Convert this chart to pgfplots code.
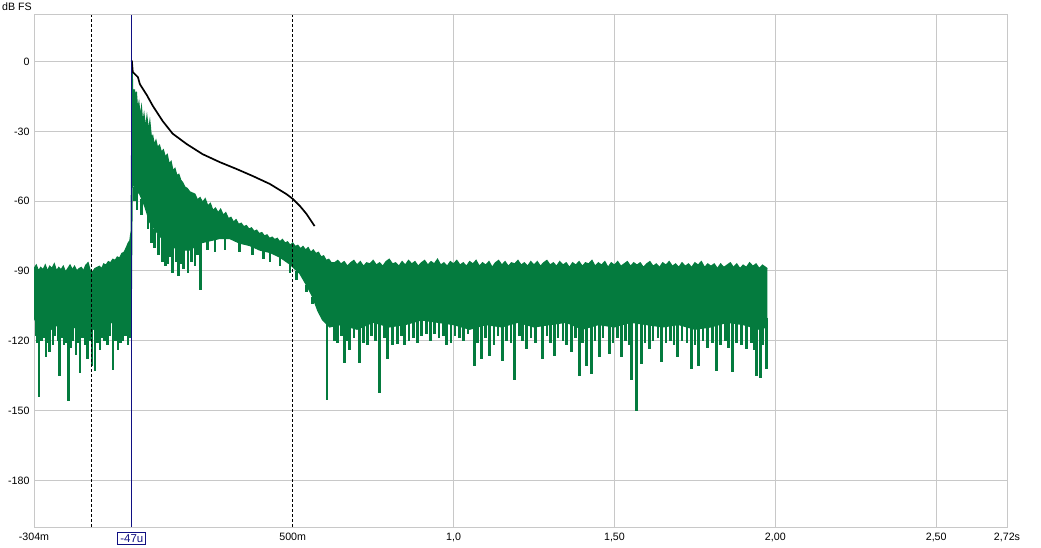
\documentclass[border=0pt]{standalone}
\usepackage{fontspec}
\setmainfont{Liberation Sans}
\usepackage{pgfplots}
\usepackage{pgfplotstable}
\pgfplotsset{compat=1.18}
\usepgfplotslibrary{fillbetween}

\definecolor{irgreen}{RGB}{4,123,62}
\definecolor{cursorblue}{RGB}{16,16,130}
\definecolor{gridgray}{RGB}{200,200,200}

% upper edge of the green impulse response (s, dB FS)
\pgfplotstableread{
t dB
-0.304 -89
-0.297 -87.5
-0.290 -90
-0.283 -88.5
-0.276 -89.5
-0.269 -87.5
-0.262 -90
-0.255 -88
-0.248 -89
-0.241 -87
-0.234 -90
-0.227 -88.5
-0.220 -89.5
-0.213 -88
-0.206 -90.5
-0.199 -89
-0.192 -87.5
-0.185 -89.5
-0.178 -88
-0.171 -90
-0.164 -89
-0.157 -88.5
-0.150 -90
-0.143 -87.5
-0.136 -86.5
-0.129 -90
-0.122 -90.5
-0.115 -89
-0.108 -88.5
-0.101 -88
-0.094 -89
-0.087 -87
-0.080 -87.5
-0.073 -86
-0.066 -86.5
-0.059 -85
-0.052 -85.5
-0.045 -84
-0.038 -84.5
-0.031 -82.5
-0.024 -82
-0.017 -80
-0.011 -78
-0.006 -77
-0.002 -73
-0.0005 -40
0.000 0
0.001 -1
0.002 -11
0.005 -16
0.008 -12
0.011 -18
0.014 -13
0.018 -21
0.022 -18
0.026 -24
0.030 -20
0.034 -27
0.038 -23
0.043 -29
0.047 -24
0.052 -30
0.056 -26
0.061 -33
0.065 -32
0.070 -36
0.075 -34
0.080 -37
0.086 -36
0.092 -39
0.098 -38
0.104 -41
0.110 -40
0.116 -44
0.122 -43
0.128 -47
0.134 -46
0.140 -49
0.146 -48.5
0.152 -51
0.158 -52
0.165 -54
0.172 -54.5
0.180 -56
0.188 -56.5
0.196 -57
0.204 -59.5
0.212 -58.5
0.220 -60.5
0.228 -59
0.236 -62
0.244 -61
0.252 -64
0.260 -63
0.268 -65
0.276 -63.5
0.284 -66
0.292 -65
0.300 -67.5
0.308 -67
0.316 -69
0.324 -68
0.332 -70
0.340 -69.5
0.348 -71
0.356 -70.5
0.364 -72
0.372 -71.5
0.380 -73
0.388 -72.5
0.396 -74
0.404 -73.5
0.412 -75
0.420 -74.5
0.428 -76
0.436 -75.5
0.444 -76.5
0.452 -76
0.460 -77.5
0.468 -76.5
0.476 -78
0.484 -77.5
0.492 -79
0.500 -78
0.508 -79.5
0.516 -79
0.524 -80.5
0.532 -79.5
0.540 -81
0.548 -80
0.556 -82
0.564 -81
0.572 -82.5
0.580 -82
0.588 -84
0.596 -83.5
0.604 -85.5
0.612 -85
0.620 -86.5
0.63 -86.5
0.64 -85.5
0.65 -87
0.66 -86
0.67 -88
0.68 -86.5
0.69 -85.5
0.70 -87.5
0.71 -86
0.72 -88
0.73 -86.5
0.74 -87
0.75 -85.5
0.76 -87.5
0.77 -86.5
0.78 -88
0.79 -86
0.80 -85
0.81 -87
0.82 -86.5
0.83 -88
0.84 -86
0.85 -87.5
0.86 -85.5
0.87 -87
0.88 -86
0.89 -88
0.90 -86.5
0.91 -85.5
0.92 -87.5
0.93 -86
0.94 -87
0.95 -85
0.96 -87.5
0.97 -86.5
0.98 -88
0.99 -86
1.00 -87
1.01 -85.5
1.02 -87.5
1.03 -86.5
1.04 -88
1.05 -86
1.06 -87
1.07 -85.5
1.08 -88
1.09 -86.5
1.10 -87.5
1.11 -86
1.12 -88.5
1.13 -86.5
1.14 -85.5
1.15 -87.5
1.16 -86
1.17 -88
1.18 -86.5
1.19 -87
1.20 -85.5
1.21 -87.5
1.22 -86.5
1.23 -88
1.24 -86
1.25 -87.5
1.26 -86
1.27 -88
1.28 -86.5
1.29 -85.5
1.30 -87.5
1.31 -86.5
1.32 -88
1.33 -86
1.34 -87.5
1.35 -86.5
1.36 -88.5
1.37 -86.5
1.38 -87.5
1.39 -86
1.40 -88
1.41 -86.5
1.42 -87
1.43 -85.5
1.44 -88
1.45 -86.5
1.46 -87.5
1.47 -86
1.48 -88.5
1.49 -86.5
1.50 -87.5
1.51 -86
1.52 -88
1.53 -87
1.54 -86
1.55 -88
1.56 -86.5
1.57 -87.5
1.58 -86.5
1.59 -88.5
1.60 -87
1.61 -86
1.62 -88
1.63 -87
1.64 -88.5
1.65 -86.5
1.66 -87.5
1.67 -86
1.68 -88
1.69 -87
1.70 -88.5
1.71 -86.5
1.72 -88
1.73 -87
1.74 -88.5
1.75 -86.5
1.76 -87.5
1.77 -86
1.78 -88.5
1.79 -87
1.80 -88
1.81 -87
1.82 -89
1.83 -87
1.84 -88.5
1.85 -87.5
1.86 -86.5
1.87 -88.5
1.88 -87
1.89 -89
1.90 -87.5
1.91 -88.5
1.92 -86.5
1.93 -88
1.94 -87
1.95 -89
1.96 -87.5
1.97 -88.5
1.975 -89
}\upedge

% lower edge of the solid green body
\pgfplotstableread{
t dB
-0.304 -110
-0.29 -114
-0.27 -112
-0.25 -115
-0.23 -113
-0.21 -116
-0.19 -113
-0.17 -115
-0.15 -112
-0.13 -116
-0.11 -114
-0.09 -112
-0.07 -113
-0.05 -110
-0.03 -111
-0.012 -109
-0.002 -108
0.001 -52
0.012 -55
0.025 -57
0.040 -62
0.056 -69
0.071 -72
0.087 -75
0.102 -77
0.118 -79
0.149 -81
0.180 -81
0.211 -78
0.242 -77
0.273 -76
0.304 -76
0.335 -78
0.366 -79
0.398 -81
0.429 -82
0.460 -84
0.491 -87
0.522 -91
0.543 -96
0.562 -101
0.578 -107
0.593 -111
0.615 -114
0.65 -113
0.70 -115
0.75 -112
0.80 -114
0.85 -113
0.90 -111
0.95 -112
1.00 -113
1.05 -115
1.10 -113
1.15 -114
1.20 -112
1.25 -114
1.30 -113
1.35 -112
1.40 -115
1.45 -113
1.50 -114
1.55 -112
1.60 -113
1.65 -114
1.70 -113
1.75 -115
1.80 -114
1.85 -112
1.90 -113
1.95 -115
1.975 -114
}\lowedge

% downward spikes: time, start level, lowest value
\pgfplotstableread{
t top dip
-0.298 -110 -118
-0.293 -110 -121
-0.289 -110 -144
-0.280 -110 -120
-0.273 -110 -119
-0.267 -110 -127
-0.260 -110 -121
-0.255 -110 -125
-0.245 -110 -122
-0.239 -110 -118
-0.230 -110 -120
-0.224 -110 -135
-0.217 -110 -119
-0.211 -110 -122
-0.203 -110 -121
-0.196 -110 -146
-0.190 -110 -123
-0.183 -110 -120
-0.174 -110 -126
-0.167 -110 -121
-0.161 -110 -134
-0.153 -110 -119
-0.146 -110 -122
-0.137 -110 -128
-0.130 -110 -120
-0.124 -110 -131
-0.115 -110 -133
-0.107 -110 -121
-0.099 -110 -124
-0.092 -110 -119
-0.084 -110 -120
-0.076 -110 -122
-0.068 -110 -118
-0.059 -110 -132.5
-0.050 -108 -120
-0.043 -108 -124
-0.036 -108 -121
-0.028 -108 -120
-0.020 -106 -118
-0.012 -106 -122
-0.005 -106 -119
0.009 -54 -60
0.016 -55 -64
0.031 -59 -66
0.050 -66 -72
0.062 -70 -78
0.071 -72 -80
0.082 -74 -83
0.096 -76 -86
0.105 -77 -88
0.112 -78 -87
0.120 -79 -84
0.127 -79 -91
0.137 -80 -86
0.146 -80 -92
0.155 -81 -87
0.161 -81 -89
0.174 -81 -91
0.185 -80 -86
0.196 -79 -88
0.205 -78 -83
0.214 -78 -98
0.236 -77 -81
0.258 -76 -82
0.289 -76 -81
0.335 -78 -82
0.376 -79 -83
0.410 -81 -85
0.429 -82 -86
0.460 -84 -88
0.491 -87 -91
0.512 -90 -94
0.543 -96 -99
0.562 -101 -104
0.606 -110 -145.5
0.630 -110 -120
0.640 -110 -121
0.652 -110 -118
0.661 -110 -129.6
0.668 -110 -120
0.677 -110 -124
0.690 -110 -119
0.708 -110 -129.6
0.720 -110 -121
0.733 -110 -122
0.745 -110 -118
0.758 -110 -120
0.770 -110 -142.5
0.785 -110 -119
0.795 -110 -128
0.810 -110 -122
0.826 -110 -121.5
0.838 -110 -118
0.848 -110 -122
0.862 -110 -120
0.875 -110 -119
0.888 -110 -121
0.901 -110 -118
0.915 -110 -117
0.928 -110 -120
0.941 -110 -117
0.955 -110 -119
0.968 -110 -118
0.978 -110 -122
0.992 -110 -121
1.005 -110 -118
1.019 -110 -119
1.030 -110 -120
1.045 -110 -117
1.065 -110 -131
1.075 -110 -121
1.087 -110 -128
1.100 -110 -119
1.112 -110 -126.6
1.125 -110 -122
1.138 -110 -118
1.152 -110 -128.7
1.165 -110 -120
1.178 -110 -121
1.189 -110 -137
1.205 -110 -118
1.215 -110 -120
1.227 -110 -123.6
1.240 -110 -119
1.255 -110 -121
1.276 -110 -128
1.290 -110 -118
1.302 -110 -121
1.314 -110 -126.6
1.325 -110 -119
1.340 -110 -120
1.351 -110 -122
1.366 -110 -125
1.378 -110 -119
1.391 -110 -135
1.400 -110 -121
1.413 -110 -131
1.429 -110 -134.4
1.440 -110 -120
1.453 -110 -127
1.465 -110 -119
1.484 -110 -125.7
1.495 -110 -121
1.510 -110 -119
1.522 -110 -127
1.535 -110 -120
1.545 -110 -122
1.553 -110 -137
1.568 -110 -150
1.584 -110 -130
1.595 -110 -121
1.609 -110 -123.6
1.620 -110 -120
1.635 -110 -119
1.646 -110 -129
1.660 -110 -121
1.675 -110 -120
1.685 -110 -122
1.696 -110 -127
1.710 -110 -120
1.725 -110 -121
1.739 -110 -132
1.750 -110 -122
1.761 -110 -131
1.775 -110 -120
1.790 -110 -123
1.805 -110 -121
1.817 -110 -133
1.830 -110 -122
1.845 -110 -120
1.855 -110 -123
1.866 -110 -133.6
1.880 -110 -121
1.895 -110 -122
1.910 -110 -123.6
1.925 -110 -121
1.935 -110 -124
1.941 -110 -135
1.953 -110 -136
1.962 -110 -122
1.972 -110 -132
}\spikes

% backward-integrated decay (black)
\pgfplotstableread{
t dB
0.000 0.5
0.003 -4.5
0.019 -6.7
0.025 -9.7
0.047 -14.5
0.065 -19
0.096 -25.6
0.127 -31
0.171 -35.5
0.220 -39.8
0.273 -43.2
0.326 -46.2
0.376 -49.2
0.429 -52.6
0.481 -57
0.500 -59
0.522 -62
0.543 -65.5
0.568 -70.7
}\schroeder

\begin{document}
\begin{tikzpicture}
\begin{axis}[
    scale only axis,
    width=973bp, height=512bp,
    at={(0,0)}, anchor=south west,
    xmin=-0.304, xmax=2.72,
    ymin=-200, ymax=20,
    xtick={-0.304,0.5,1,1.5,2,2.5,2.72},
    xticklabels={-304m,500m,{1,0},{1,50},{2,00},{2,50},{2,72s}},
    extra x ticks={1,1.5,2,2.5},
    extra x tick labels={},
    extra x tick style={grid=major},
    ytick={-180,-150,-120,-90,-60,-30,0},
    yticklabels={-180,-150,-120,-90,-60,-30,0},
    ymajorgrids=true,
    major grid style={gridgray, line width=1bp},
    major tick length=0pt,
    axis line style={gridgray, line width=1bp},
    tick label style={font=\fontsize{10.7}{12}\selectfont, black},
    xticklabel style={yshift=-3bp},
    yticklabel style={xshift=-1bp},
]

% green impulse response: solid body, edges and spikes
\addplot [name path=up, irgreen, line width=1.3bp] table [x=t, y=dB] {\upedge};
\addplot [name path=lo, irgreen, line width=1.3bp] table [x=t, y=dB] {\lowedge};
\addplot [irgreen] fill between [of=up and lo];
\addplot [irgreen, line width=2.6bp,
    quiver={u=0, v=\thisrow{dip}-\thisrow{top},
        every arrow/.append style={line width=2.6bp}}]
    table [x=t, y=top] {\spikes};

% window markers
\draw [black, line width=0.9bp, dash pattern=on 3bp off 2bp]
    (axis cs:-0.127,-200) -- (axis cs:-0.127,20);
\draw [black, line width=0.9bp, dash pattern=on 3bp off 2bp]
    (axis cs:0.5,-200) -- (axis cs:0.5,20);

% decay curve
\addplot [black, line width=1.7bp] table [x=t, y=dB] {\schroeder};

% cursor
\draw [cursorblue, line width=1.2bp] (axis cs:0,-200) -- (axis cs:0,20);
\end{axis}

\node [draw=cursorblue, text=cursorblue, line width=0.8bp, inner xsep=2.5bp,
    inner ysep=2bp, font=\fontsize{11.5}{13}\selectfont, anchor=north]
    at (97.8bp,-5bp) {-47u};
\node [anchor=west, inner sep=0pt, font=\fontsize{10.7}{12}\selectfont]
    at (-32bp,520bp) {dB FS};
\pgfresetboundingbox
\path [use as bounding box] (-34bp,-21bp) rectangle (1007bp,527bp);
\end{tikzpicture}
\end{document}
